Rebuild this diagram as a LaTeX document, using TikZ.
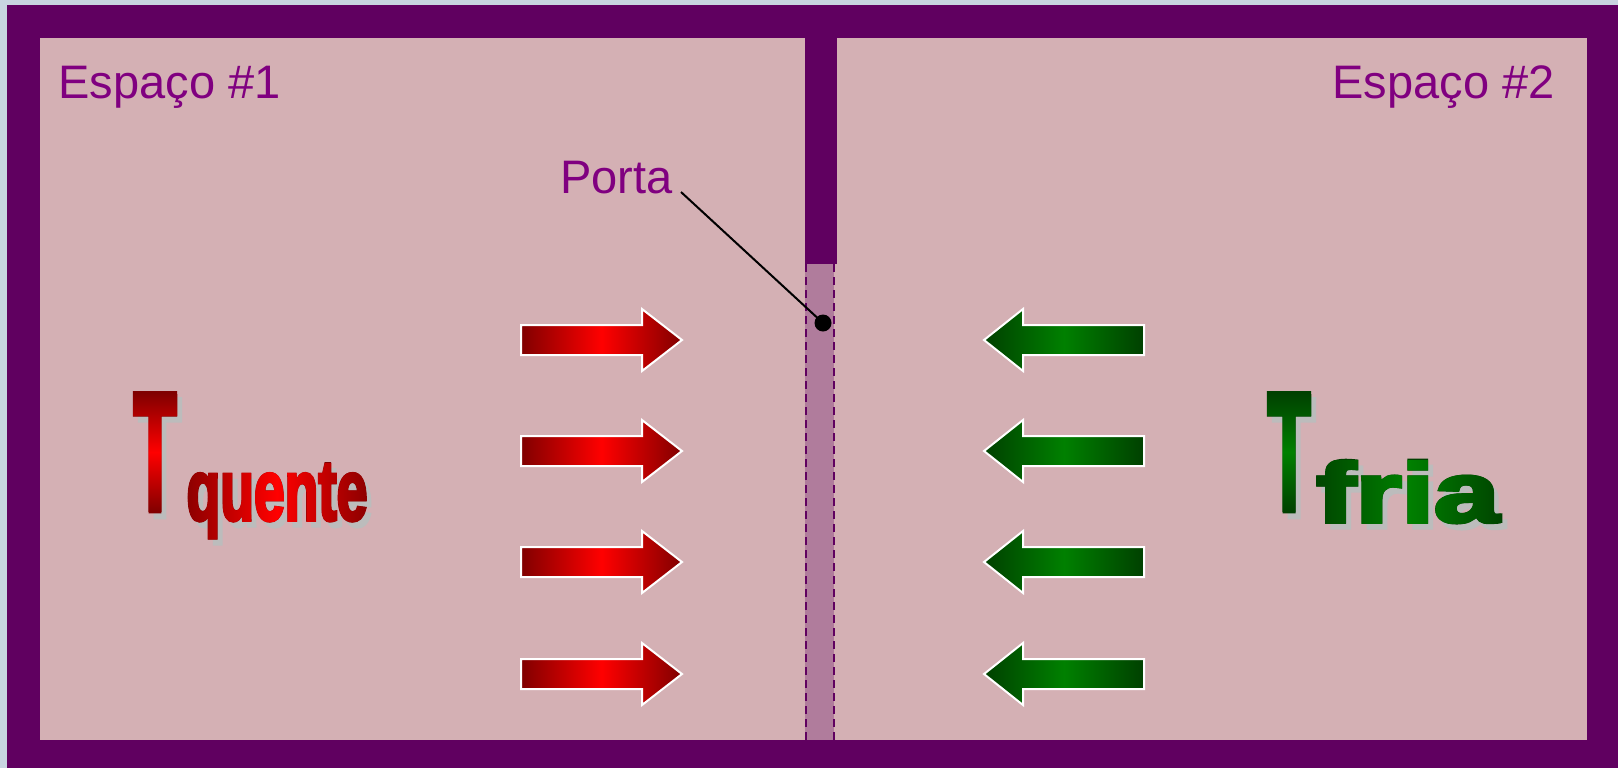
\documentclass[tikz,border=0pt]{standalone}
\usepackage{fontspec}
\setmainfont{Liberation Sans}
\newfontfamily\heavyfont{Liberation Sans}[BoldFeatures={FakeBold=4}]
\usepackage{graphicx}
\usetikzlibrary{fadings}

\definecolor{bgc}{RGB}{200,212,224}
\definecolor{wallc}{RGB}{96,0,96}
\definecolor{roomc}{RGB}{212,176,180}
\definecolor{doorc}{RGB}{176,124,156}
\definecolor{labc}{RGB}{128,0,128}
\definecolor{hotdark}{RGB}{128,0,0}
\definecolor{hotlight}{RGB}{255,0,0}
\definecolor{colddark}{RGB}{0,64,0}
\definecolor{coldlight}{RGB}{0,128,0}
\definecolor{shadowc}{RGB}{188,188,188}

\newcommand{\bigTtext}{\fontsize{84}{84}\heavyfont\bfseries\scalebox{0.42}[1]{T}}
\newcommand{\quentetext}{\fontsize{43}{43}\heavyfont\bfseries\scalebox{0.64}[1]{quente}}
\newcommand{\friatext}{\fontsize{42.5}{42.5}\heavyfont\bfseries\scalebox{1.38}[1]{fria}}

% fadings are fitted at twice their size, so they are declared at half size
\pgfdeclarefading{fadeT}{\color{white}\scalebox{0.5}{\bigTtext}}
\pgfdeclarefading{fadeQ}{\color{white}\scalebox{0.5}{\quentetext}}
\pgfdeclarefading{fadeF}{\color{white}\scalebox{0.5}{\friatext}}

\pgfdeclareverticalshading{hotT}{100bp}{color(0bp)=(hotdark); color(35bp)=(hotdark); color(50bp)=(hotlight); color(65bp)=(hotdark); color(100bp)=(hotdark)}
\pgfdeclareverticalshading{coldT}{100bp}{color(0bp)=(colddark); color(35bp)=(colddark); color(50bp)=(coldlight); color(65bp)=(colddark); color(100bp)=(colddark)}

\tikzset{
  lab/.style={text=labc, font=\fontsize{23.5}{28}\selectfont, inner sep=0pt},
  bigtxt/.style={inner sep=0pt, anchor=base},
  shadowtxt/.style={inner sep=0pt, anchor=base, text=shadowc},
  doorline/.style={wallc, line width=1pt, dash pattern=on 4pt off 2.5pt},
  hotarrow/.pic={\shade[left color=hotdark, right color=hotdark, middle color=hotlight, draw=white, line width=1pt]
      (0,-15) -- (121,-15) -- (121,-31) -- (161,0) -- (121,31) -- (121,15) -- (0,15) -- cycle;},
  coldarrow/.pic={\shade[left color=colddark, right color=colddark, middle color=coldlight, draw=white, line width=1pt]
      (0,0) -- (39,-31) -- (39,-15) -- (160,-15) -- (160,15) -- (39,15) -- (39,31) -- cycle;}
}

\begin{document}
\begin{tikzpicture}[x=0.5pt,y=-0.5pt]
\useasboundingbox (0,0) rectangle (1618,768);
\fill[bgc] (0,0) rectangle (1618,768);
% walls and rooms
\fill[wallc] (7,5) rectangle (1618,768);
\fill[roomc] (40,38) rectangle (1587,740);
\fill[wallc] (805,30) rectangle (837,264);
\fill[doorc] (805,264) rectangle (834,740);
\draw[doorline] (806,264) -- (806,740);
\draw[doorline] (833.5,264) -- (833.5,740);

% labels
\node[lab, anchor=base west] (esp1) at (58,98) {Espaço \#1};
\node[lab, anchor=base east] (esp2) at (1555,98) {Espaço \#2};
\node[lab, anchor=base west] (porta) at (560,193) {Porta};
\coordinate (pl) at (681,192);
\node[circle, fill=black, inner sep=0pt, minimum size=8.5pt] (dot) at (823,323) {};
\draw[line width=1pt] (pl) -- (dot.center);

% arrows
\foreach \yy in {340,451,562,674} {
  \pic at (521,\yy) {hotarrow};
  \pic at (984,\yy) {coldarrow};
}

% T quente
\node[shadowtxt] (tqs) at (160,516) {\bigTtext};
\node[bigtxt, text=hotdark] (tq) at (155,510) {\bigTtext};
\begin{scope}[shift={(tq.center)}]
\shade[path fading=fadeT, shading=hotT] (-50bp,-50bp) rectangle (50bp,50bp);
\end{scope}
\node[shadowtxt] (qs) at (282,526) {\quentetext};
\node[bigtxt, text=hotdark] (q) at (277,520) {\quentetext};
\begin{scope}[shift={(q.center)}]
\shade[path fading=fadeQ, left color=hotdark, right color=hotdark, middle color=hotlight] (-50bp,-50bp) rectangle (50bp,50bp);
\end{scope}

% T fria
\node[shadowtxt] (tfs) at (1294,516) {\bigTtext};
\node[bigtxt, text=colddark] (tf) at (1289,510) {\bigTtext};
\begin{scope}[shift={(tf.center)}]
\shade[path fading=fadeT, shading=coldT] (-50bp,-50bp) rectangle (50bp,50bp);
\end{scope}
\node[shadowtxt] (fs) at (1413,528) {\friatext};
\node[bigtxt, text=colddark] (f) at (1408,522) {\friatext};
\begin{scope}[shift={(f.center)}]
\shade[path fading=fadeF, left color=colddark, right color=colddark, middle color=coldlight] (-50bp,-50bp) rectangle (50bp,50bp);
\end{scope}
\end{tikzpicture}
\end{document}
